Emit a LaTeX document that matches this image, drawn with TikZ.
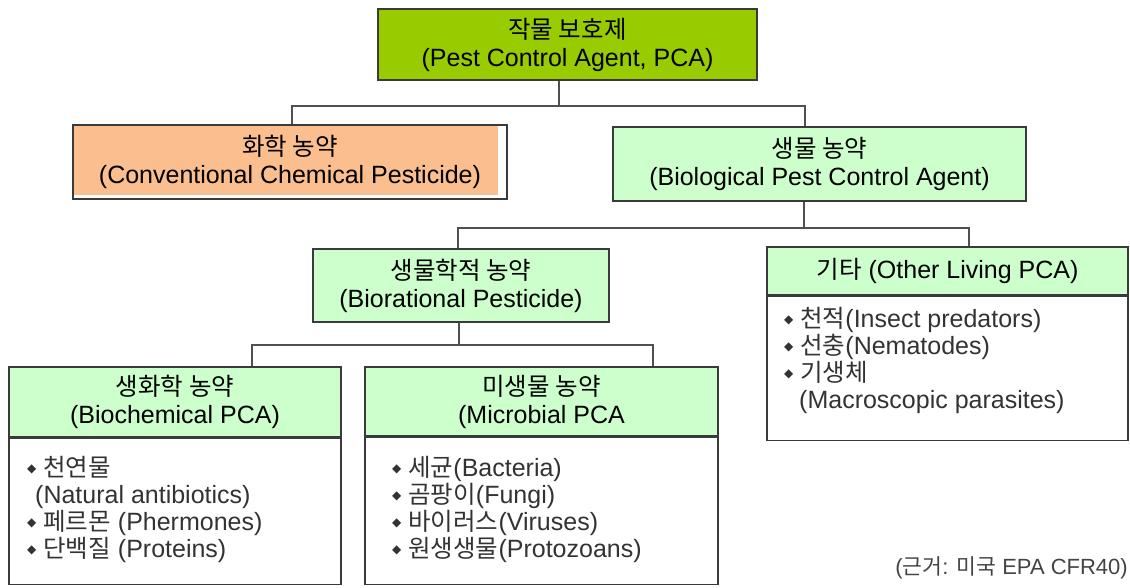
\documentclass[tikz,border=0pt]{standalone}
\usepackage{fontspec}
\setmainfont{Liberation Sans}
\newfontfamily\hgfont[Scale=0.98]{Noto Sans CJK KR}
\newfontfamily\symfont{DejaVu Sans}
\newcommand\hg[1]{{\hgfont #1}}
\newcommand\bul{\raisebox{3.5pt}{\symfont\fontsize{12}{12}\selectfont ◆}}

\definecolor{pcalime}{HTML}{99CC00}
\definecolor{peach}{HTML}{FBBE8E}
\definecolor{mint}{HTML}{CCFFCC}
\definecolor{boxline}{HTML}{3A3A3A}
\definecolor{connline}{HTML}{505050}
\definecolor{listgrey}{HTML}{333333}
\definecolor{footgrey}{HTML}{444444}

\tikzset{
  box/.style={draw=boxline, line width=1.6pt, align=center, inner sep=0pt,
    font=\fontsize{25}{28}\selectfont, text=black},
  chembox/.style={fill=white,
    path picture={\fill[peach] (path picture bounding box.north west)
      rectangle ([xshift=-9pt,yshift=4pt]path picture bounding box.south east);}},
  conn/.style={draw=connline, line width=2pt},
  itemlist/.style={align=left, inner sep=0pt, anchor=west,
    font=\fontsize{25}{27}\selectfont, text=listgrey},
}

\begin{document}
\begin{tikzpicture}[x=1pt, y=-1pt]
\useasboundingbox (0,0) rectangle (1130,588);

% level 0 and 1
\node[box, fill=pcalime, minimum width=379pt, minimum height=71pt] (top) at (567.5,44.5)
  {\hg{작물 보호제}\\(Pest Control Agent, PCA)};
\node[box, chembox, minimum width=434pt, minimum height=74pt] (chem) at (290,162)
  {\hg{화학 농약}\\(Conventional Chemical Pesticide)};
\node[box, fill=mint, minimum width=413pt, minimum height=74pt] (bio) at (819.5,164)
  {\hg{생물 농약}\\(Biological Pest Control Agent)};

% level 2
\node[box, fill=mint, minimum width=296pt, minimum height=73pt] (brat) at (461,285.5)
  {\hg{생물학적 농약}\\(Biorational Pesticide)};
\node[box, fill=mint, minimum width=361pt, minimum height=48pt] (oth) at (947.5,271)
  {\hg{기타} (Other Living PCA)};
\node[box, fill=white, anchor=north, minimum width=361pt, minimum height=144pt] (othb) at (oth.south) {};
\node[itemlist] (othl) at (784,360)
  {\bul\ \hg{천적}(Insect predators)\\
   \bul\ \hg{선충}(Nematodes)\\
   \bul\ \hg{기생체}\\
   \hspace*{15pt}(Macroscopic parasites)};

% level 3
\node[box, fill=mint, minimum width=332pt, minimum height=70pt] (bch) at (175,402)
  {\hg{생화학 농약}\\(Biochemical PCA)};
\node[box, fill=white, anchor=north, minimum width=332pt, minimum height=146pt] (bchb) at (bch.south) {};
\node[itemlist] (bchl) at (27,509)
  {\bul\ \hg{천연물}\\
   \hspace*{8pt}(Natural antibiotics)\\
   \bul\ \hg{페르몬} (Phermones)\\
   \bul\ \hg{단백질} (Proteins)};

\node[box, fill=mint, minimum width=353pt, minimum height=69pt] (mic) at (541.5,401.5)
  {\hg{미생물 농약}\\(Microbial PCA};
\node[box, fill=white, anchor=north, minimum width=353pt, minimum height=147pt] (micb) at (mic.south) {};
\node[itemlist] (micl) at (392,509)
  {\bul\ \hg{세균}(Bacteria)\\
   \bul\ \hg{곰팡이}(Fungi)\\
   \bul\ \hg{바이러스}(Viruses)\\
   \bul\ \hg{원생생물}(Protozoans)};

% connectors
\coordinate (j1) at (559,106);
\coordinate (j1l) at (292,106);
\coordinate (j1r) at (805,106);
\draw[conn] (top.south -| j1) -- (j1);
\draw[conn] (chem.north -| j1l) -- (j1l) -- (j1r) -- (bio.north -| j1r);

\coordinate (j2) at (804,228);
\coordinate (j2l) at (458,228);
\coordinate (j2r) at (969,228);
\draw[conn] (bio.south -| j2) -- (j2);
\draw[conn] (brat.north -| j2l) -- (j2l) -- (j2r) -- (oth.north -| j2r);

\coordinate (j3) at (459,345);
\coordinate (j3l) at (252,345);
\coordinate (j3r) at (653,345);
\draw[conn] (brat.south -| j3) -- (j3);
\draw[conn] (bch.north -| j3l) -- (j3l) -- (j3r) -- (mic.north -| j3r);

% source note
\node[anchor=east, inner sep=0pt, font=\fontsize{22}{22}\selectfont, text=footgrey] (src) at (1128,568)
  {(\hg{근거}: \hg{미국} EPA CFR40)};
\end{tikzpicture}
\end{document}
